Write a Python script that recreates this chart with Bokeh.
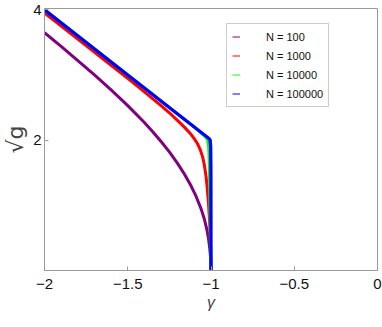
from bokeh.plotting import figure
from bokeh.models import Legend, LegendItem, FixedTicker, Range1d
from bokeh.embed import file_html
from bokeh.resources import INLINE

# ---- data ----
labels = ["N = 100", "N = 1000", "N = 10000", "N = 100000"]
colors = ["#800080", "#ff0000", "#00ff00", "#0000ff"]

gamma_n100 = [-2.0, -1.9, -1.8, -1.7, -1.6, -1.5, -1.4, -1.35, -1.3, -1.25, -1.2,
              -1.16, -1.12, -1.09, -1.06, -1.04, -1.025, -1.015, -1.008, -1.003, -1.0]
sqrtg_n100 = [3.65, 3.44, 3.22, 3.00, 2.77, 2.53, 2.27, 2.13, 1.98, 1.82, 1.64,
              1.48, 1.30, 1.14, 0.95, 0.79, 0.63, 0.49, 0.35, 0.21, 0.0]

gamma_n1000 = [-2.0, -1.8, -1.6, -1.5, -1.4, -1.3, -1.25, -1.2, -1.16, -1.12, -1.1,
               -1.08, -1.064, -1.05, -1.04, -1.03, -1.024, -1.015, -1.008, -1.004,
               -1.0015, -1.0]
sqrtg_n1000 = [3.95, 3.55, 3.15, 2.95, 2.74, 2.53, 2.42, 2.30, 2.20, 2.09, 2.02,
               1.94, 1.85, 1.74, 1.62, 1.45, 1.30, 1.03, 0.74, 0.45,
               0.20, 0.0]

gamma_n10000 = [-2.0, -1.5, -1.1, -1.05, -1.03, -1.02, -1.015, -1.012, -1.01,
                -1.008, -1.005, -1.0]
sqrtg_n10000 = [4.0, 3.0, 2.2, 2.09, 2.04, 2.0, 1.92, 1.8, 1.6,
                1.3, 0.8, 0.0]

gamma_n100000 = [-2.0, -1.5, -1.02, -1.01, -1.005, -1.002, -1.0005, -1.0]
sqrtg_n100000 = [4.0, 3.0, 2.04, 2.02, 2.0, 1.9, 1.5, 0.0]

x_ticks = [-2, -1.5, -1, -0.5, 0]
x_tick_labels = ["\u22122", "\u22121.5", "\u22121", "\u22120.5", "0"]
y_ticks = [2, 4]

series = [
    (gamma_n100, sqrtg_n100),
    (gamma_n1000, sqrtg_n1000),
    (gamma_n10000, sqrtg_n10000),
    (gamma_n100000, sqrtg_n100000),
]
widths = [3, 3, 3, 3.3]

FRAME = "#9a9a9a"
FONT = "Liberation Sans"

p = figure(width=382, height=327,
           x_range=Range1d(-2, 0), y_range=Range1d(0, 4.02),
           output_backend="svg", toolbar_location=None,
           min_border_left=44, min_border_right=5,
           min_border_top=8, min_border_bottom=57)

p.grid.visible = False
p.outline_line_color = FRAME
p.outline_line_width = 1

# thin lines (for the legend), hidden beneath the thick curves
thin = []
for (gx, gy), c in zip(series, colors):
    thin.append(p.line(gx, gy, line_color=c, line_width=1))
for (gx, gy), c, w in zip(series, colors, widths):
    p.line(gx, gy, line_color=c, line_width=w, line_join="round")

# axes
xa = p.xaxis[0]
xa.ticker = FixedTicker(ticks=x_ticks)
xa.major_label_overrides = {float(t): l for t, l in zip(x_ticks, x_tick_labels)}
ya = p.yaxis[0]
ya.ticker = FixedTicker(ticks=y_ticks)

for ax in (xa, ya):
    ax.axis_line_color = FRAME
    ax.major_tick_line_color = FRAME
    ax.major_tick_in = 4
    ax.major_tick_out = 0
    ax.minor_tick_line_color = None
    ax.major_label_text_font = FONT
    ax.major_label_text_font_size = "15px"
    ax.major_label_text_color = "#111111"

xa.major_label_standoff = 8
ya.major_label_standoff = 3

xa.axis_label = "\u03b3"
xa.axis_label_text_font = FONT
xa.axis_label_text_font_style = "italic"
xa.axis_label_text_font_size = "16px"
xa.axis_label_standoff = 2

ya.axis_label = "\u221ag"
ya.axis_label_text_font = "DejaVu Sans"
ya.axis_label_text_font_style = "normal"
ya.axis_label_text_font_size = "22px"
ya.axis_label_standoff = 2

legend = Legend(items=[LegendItem(label=l, renderers=[r]) for l, r in zip(labels, thin)],
                location=(182, 163))
legend.margin = 0
legend.padding = 5
legend.spacing = 4
legend.label_height = 15
legend.glyph_height = 15
legend.glyph_width = 8
legend.label_standoff = 26
legend.label_text_font = FONT
legend.label_text_font_size = "11px"
legend.label_text_color = "#111111"
legend.border_line_color = FRAME
legend.border_line_width = 1
legend.background_fill_alpha = 1
p.add_layout(legend, "center")

open("out.html", "w").write(file_html(p, INLINE))
